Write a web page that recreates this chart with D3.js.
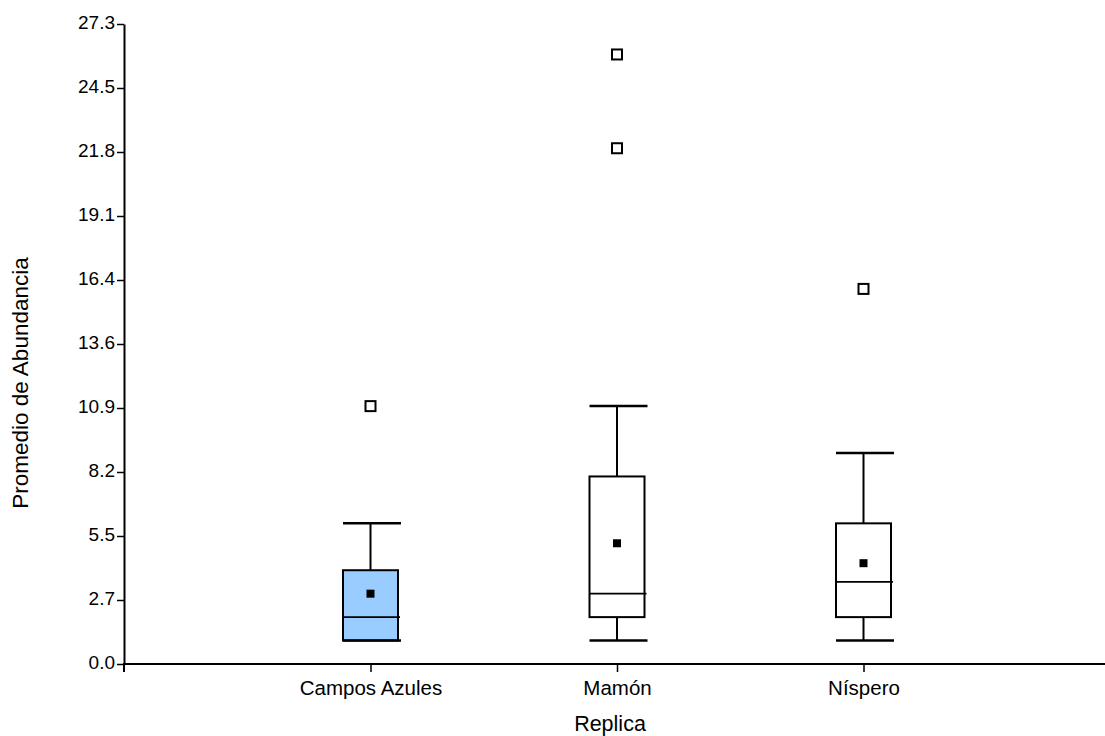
<!DOCTYPE html>
<html><head><meta charset="utf-8">
<script src="https://cdn.jsdelivr.net/npm/d3@7"></script>
<style>body{margin:0;background:#fff;} svg{display:block;font-family:"Liberation Sans",Arial,sans-serif;}</style>
</head><body>
<svg id="c" width="1105" height="736"></svg>
<script>
const categories = ["Campos Azules", "Mamón", "Níspero"];
const whiskerLow = [1, 1, 1];
const q1 = [1, 2, 2];
const median = [2, 3, 3.5];
const q3 = [4, 8, 6];
const whiskerHigh = [6, 11, 9];
const means = [3.0, 5.15, 4.3];
const outliers = [[11], [22, 26], [16]];
const fills = ["#99CCFF", "#FFFFFF", "#FFFFFF"];
const yTicks = [0, 2.73, 5.46, 8.19, 10.92, 13.65, 16.38, 19.11, 21.84, 24.57, 27.3];
const yTickLabels = ["0.0", "2.7", "5.5", "8.2", "10.9", "13.6", "16.4", "19.1", "21.8", "24.5", "27.3"];

const svg = d3.select("#c");
const FONT = "Liberation Sans, Arial, sans-serif";
const mLeft = 124, mTop = 24, mBottom = 664, mRight = 1105;
const y = d3.scaleLinear().domain([0, 27.3]).range([mBottom, mTop]);
const x = d3.scalePoint().domain(categories).range([mLeft, 1110]).padding(1);

// Y axis
const yAxis = d3.axisLeft(y).tickValues(yTicks).tickFormat((d, i) => yTickLabels[i]).tickSize(7).tickSizeOuter(0);
const gy = svg.append("g").attr("transform", `translate(${mLeft},0)`).call(yAxis)
  .attr("font-size", 19).attr("font-family", FONT);
gy.select(".domain").attr("stroke", "#000").attr("stroke-width", 2);
gy.selectAll(".tick line").attr("stroke", "#000").attr("stroke-width", 1.5);
gy.selectAll(".tick text").attr("fill", "#000").attr("x", -9).attr("dy", "0.25em");

// X axis
const xAxis = d3.axisBottom(x).tickSize(8).tickSizeOuter(0);
const gx = svg.append("g").attr("transform", `translate(0,${mBottom})`).call(xAxis)
  .attr("font-size", 20.5).attr("font-family", FONT);
gx.select(".domain").attr("d", `M${mLeft},8V0H${mRight}`).attr("stroke", "#000").attr("stroke-width", 2).attr("fill", "none");
gx.selectAll(".tick line").attr("stroke", "#000").attr("stroke-width", 1.5);
gx.selectAll(".tick text").attr("fill", "#000").attr("y", 31).attr("dy", 0);

// Axis titles
svg.append("text").attr("x", 610).attr("y", 731).attr("text-anchor", "middle")
  .attr("font-family", FONT).attr("font-size", 21.5).text("Replica");
svg.append("text").attr("transform", "translate(28,383) rotate(-90)").attr("text-anchor", "middle")
  .attr("font-family", FONT).attr("font-size", 22.5).text("Promedio de Abundancia");

// Boxes
const bw = 55;
const g = svg.append("g");
categories.forEach((c, i) => {
  const cx = x(c);
  const gg = g.append("g");
  gg.append("line").attr("x1", cx).attr("x2", cx).attr("y1", y(q3[i])).attr("y2", y(whiskerHigh[i]))
    .attr("stroke", "#000").attr("stroke-width", 2);
  gg.append("line").attr("x1", cx).attr("x2", cx).attr("y1", y(q1[i])).attr("y2", y(whiskerLow[i]))
    .attr("stroke", "#000").attr("stroke-width", 2);
  gg.append("rect").attr("x", cx - bw / 2).attr("width", bw)
    .attr("y", y(q3[i])).attr("height", y(q1[i]) - y(q3[i]))
    .attr("fill", fills[i]).attr("stroke", "#000").attr("stroke-width", 2);
  [whiskerHigh[i], whiskerLow[i]].forEach(v => {
    gg.append("line").attr("x1", cx - bw / 2).attr("x2", cx + bw / 2 + 3).attr("y1", y(v)).attr("y2", y(v))
      .attr("stroke", "#000").attr("stroke-width", 2.5);
  });
  gg.append("line").attr("x1", cx - bw / 2).attr("x2", cx + bw / 2 + 2).attr("y1", y(median[i])).attr("y2", y(median[i]))
    .attr("stroke", "#000").attr("stroke-width", 1.8);
  gg.append("rect").attr("x", cx - 4).attr("y", y(means[i]) - 4).attr("width", 8).attr("height", 8).attr("fill", "#000");
  outliers[i].forEach(v => {
    gg.append("rect").attr("x", cx - 5).attr("y", y(v) - 5).attr("width", 10).attr("height", 10)
      .attr("fill", "#fff").attr("stroke", "#000").attr("stroke-width", 2);
  });
});
</script>
</body></html>
